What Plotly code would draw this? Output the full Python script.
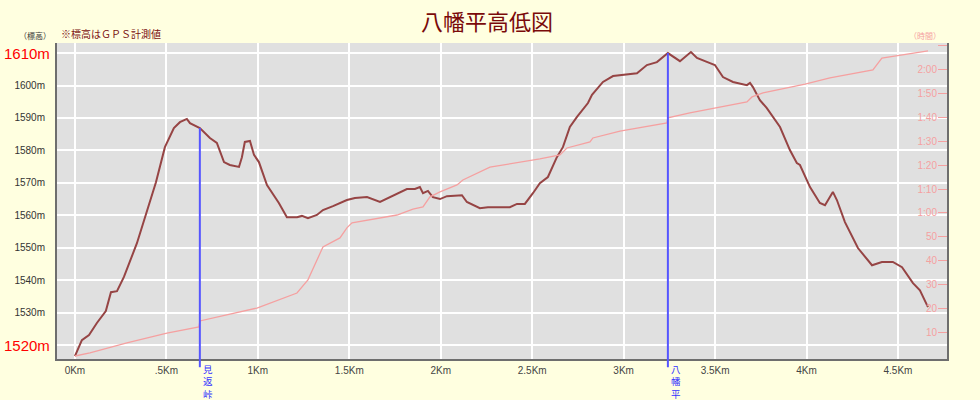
import plotly.graph_objects as go

# ---------------- data ----------------
dist_km = [0.0, 0.038, 0.077, 0.120, 0.169, 0.197, 0.230, 0.268, 0.339, 0.394, 0.443, 0.492,
           0.541, 0.574, 0.612, 0.629, 0.683, 0.738, 0.776, 0.815, 0.847, 0.897, 0.913, 0.929,
           0.957, 0.979, 1.006, 1.050, 1.115, 1.159, 1.214, 1.241, 1.274, 1.323, 1.356, 1.411,
           1.487, 1.531, 1.597, 1.668, 1.722, 1.815, 1.859, 1.886, 1.903, 1.930, 1.957, 1.996,
           2.034, 2.116, 2.143, 2.214, 2.258, 2.378, 2.417, 2.460, 2.504, 2.542, 2.586, 2.613,
           2.635, 2.668, 2.706, 2.745, 2.805, 2.827, 2.887, 2.942, 2.996, 3.073, 3.127, 3.182,
           3.242, 3.308, 3.368, 3.401, 3.472, 3.499, 3.543, 3.598, 3.674, 3.691, 3.707, 3.745,
           3.783, 3.855, 3.909, 3.947, 3.964, 4.019, 4.073, 4.101, 4.144, 4.166, 4.210, 4.281,
           4.358, 4.412, 4.472, 4.522, 4.582, 4.620, 4.664]
elev_m = [1516.6, 1521.5, 1523.1, 1526.8, 1530.5, 1536.3, 1536.6, 1541.0, 1551.4, 1561.6, 1570.2, 1581.0,
          1586.9, 1588.7, 1589.7, 1588.4, 1586.9, 1583.8, 1582.3, 1576.4, 1575.5, 1574.9, 1577.9, 1582.6,
          1582.9, 1578.6, 1576.4, 1569.3, 1563.8, 1559.4, 1559.4, 1559.8, 1559.1, 1560.1, 1561.6, 1562.8,
          1564.7, 1565.3, 1565.6, 1564.1, 1565.6, 1568.1, 1568.1, 1568.7, 1566.8, 1567.5, 1565.6, 1565.0,
          1565.9, 1566.2, 1564.1, 1562.2, 1562.5, 1562.5, 1563.5, 1563.5, 1566.8, 1569.9, 1571.8, 1574.9,
          1577.9, 1581.0, 1587.2, 1590.3, 1594.6, 1597.1, 1601.1, 1602.9, 1603.2, 1603.8, 1606.3, 1607.2,
          1610.0, 1607.5, 1610.3, 1608.5, 1606.9, 1606.3, 1602.6, 1601.1, 1600.1, 1600.8, 1599.5, 1595.5,
          1593.0, 1587.2, 1580.1, 1576.1, 1575.5, 1568.7, 1563.8, 1563.1, 1567.2, 1564.7, 1557.9, 1549.9,
          1544.6, 1545.6, 1545.6, 1544.0, 1539.1, 1536.9, 1531.7]

time_dist_km = [0.0, 0.082, 0.284, 0.503, 0.678, 0.683, 0.995, 1.214, 1.274, 1.356, 1.449, 1.487,
                1.515, 1.668, 1.761, 1.848, 1.903, 1.941, 1.996, 2.089, 2.121, 2.269, 2.542, 2.652,
                2.690, 2.816, 2.832, 2.980, 3.237, 3.242, 3.362, 3.674, 3.702, 3.762, 3.992, 4.128,
                4.363, 4.412, 4.456, 4.664]
time_min = [0.0, 1.3, 5.5, 9.6, 12.2, 14.7, 20.1, 26.4, 31.9, 45.7, 49.5, 53.7,
            55.8, 57.9, 59.1, 61.6, 62.5, 66.7, 68.8, 71.7, 73.8, 79.2, 82.6, 84.3,
            87.2, 89.7, 91.4, 94.3, 97.7, 99.8, 101.9, 106.5, 108.6, 110.3, 114.0, 116.6,
            119.9, 124.9, 125.4, 127.9]

marker_names = ["見返峠", "八幡平"]
marker_km = [0.683, 3.242]
marker_elev = [1586.9, 1610.0]

elev_ticks = [1520, 1530, 1540, 1550, 1560, 1570, 1580, 1590, 1600, 1610]
elev_labels = ["1520m", "1530m", "1540m", "1550m", "1560m", "1570m", "1580m", "1590m", "1600m", "1610m"]
elev_big = ["1520m", "1610m"]

dist_ticks = [0, 0.5, 1, 1.5, 2, 2.5, 3, 3.5, 4, 4.5]
dist_labels = ["0Km", ".5Km", "1Km", "1.5Km", "2Km", "2.5Km", "3Km", "3.5Km", "4Km", "4.5Km"]

time_ticks = [10, 20, 30, 40, 50, 60, 70, 80, 90, 100, 110, 120, 130]
time_labels = ["10", "20", "30", "40", "50", "1:00", "1:10", "1:20", "1:30", "1:40", "1:50", "2:00", "2:10"]

title_text = "八幡平高低図"
note_text = "※標高はＧＰＳ計測値"
left_unit = "（標高）"
right_unit = "（時間）"

# ---------------- styling ----------------
X_RANGE = [-0.098, 4.768]
Y_RANGE = [1515.7, 1613.1]
Y2_RANGE = [-1.26, 131.2]

PAPER = "#FFFFE0"
PLOT = "#E0E0E0"
ELEV_C = "#964444"
TIME_C = "#F5A0A0"
BLUE = "#5555FF"
AXIS_C = "#6E6E6E"
LBL = "Liberation Sans, Arial, sans-serif"
JP = "Noto Sans CJK JP, sans-serif"

fig = go.Figure()

fig.add_trace(go.Scatter(x=time_dist_km, y=time_min, yaxis="y2", mode="lines",
                         line=dict(color=TIME_C, width=1.3), hoverinfo="skip", showlegend=False))
fig.add_trace(go.Scatter(x=dist_km, y=elev_m, mode="lines",
                         line=dict(color=ELEV_C, width=2), hoverinfo="skip", showlegend=False))

shapes = []
annos = []
for name, km, el in zip(marker_names, marker_km, marker_elev):
    top = (el - Y_RANGE[0]) / (Y_RANGE[1] - Y_RANGE[0])
    shapes.append(dict(type="line", xref="x", yref="paper", x0=km, x1=km, y0=-0.026, y1=top,
                       line=dict(color=BLUE, width=2)))
    annos.append(dict(x=km, y=0, xref="x", yref="paper", text="<br>".join(name), showarrow=False,
                      xanchor="left", yanchor="top", xshift=1, yshift=-1, align="center",
                      font=dict(family=JP, size=9.5, color="#3333FF")))

# big red elevation labels
for lab, val in zip(elev_labels, elev_ticks):
    if lab in elev_big:
        annos.append(dict(x=0, y=val, xref="paper", yref="y", text=lab, showarrow=False,
                          xanchor="right", yanchor="middle", xshift=-5,
                          font=dict(family=LBL, size=15, color="#FF0000")))

annos.append(dict(x=0, y=1, xref="paper", yref="paper", text=left_unit, showarrow=False,
                  xanchor="right", yanchor="bottom", xshift=-4, yshift=0,
                  font=dict(family=JP, size=8, color="#333333")))
annos.append(dict(x=0, y=1, xref="paper", yref="paper", text=note_text, showarrow=False,
                  xanchor="left", yanchor="bottom", xshift=2, yshift=0,
                  font=dict(family=JP, size=10, color="#7A1010")))
annos.append(dict(x=1, y=1, xref="paper", yref="paper", text=right_unit, showarrow=False,
                  xanchor="right", yanchor="bottom", xshift=-4, yshift=0,
                  font=dict(family=JP, size=8, color=TIME_C)))

fig.update_layout(
    width=980, height=400,
    margin=dict(l=57, r=33, t=43, b=41),
    paper_bgcolor=PAPER, plot_bgcolor=PLOT,
    title=dict(text=title_text, x=0.497, xanchor="center", y=0.945, yanchor="middle",
               font=dict(family=JP, size=22, color="#7A0A0A")),
    xaxis=dict(range=X_RANGE, tickvals=dist_ticks, ticktext=dist_labels,
               showgrid=True, gridcolor="#FFFFFF", gridwidth=2, zeroline=False,
               showline=True, linecolor=AXIS_C, linewidth=2, mirror=False,
               ticks="", ticklabelstandoff=1,
               tickfont=dict(family=LBL, size=10, color="#444444")),
    yaxis=dict(range=Y_RANGE, tickvals=elev_ticks,
               ticktext=["" if t in elev_big else t for t in elev_labels],
               showgrid=True, gridcolor="#FFFFFF", gridwidth=2, zeroline=False,
               showline=True, linecolor=AXIS_C, linewidth=2, mirror=False,
               ticks="", ticklabelstandoff=8,
               tickfont=dict(family=LBL, size=10, color="#333333")),
    yaxis2=dict(range=Y2_RANGE, overlaying="y", side="right", tickvals=time_ticks, ticktext=time_labels,
                showgrid=False, zeroline=False,
                showline=True, linecolor=AXIS_C, linewidth=2,
                ticks="inside", ticklen=9, tickwidth=1, tickcolor=TIME_C,
                ticklabelposition="inside",
                tickfont=dict(family=LBL, size=10, color=TIME_C)),
    shapes=shapes, annotations=annos,
)

fig.write_html(
    "out.html",
    config={"displayModeBar": False},
    post_script="document.body.style.margin='0';document.body.style.padding='0';"
                "document.body.style.background='" + PAPER + "';"
                "document.body.style.overflow='hidden';",
)
